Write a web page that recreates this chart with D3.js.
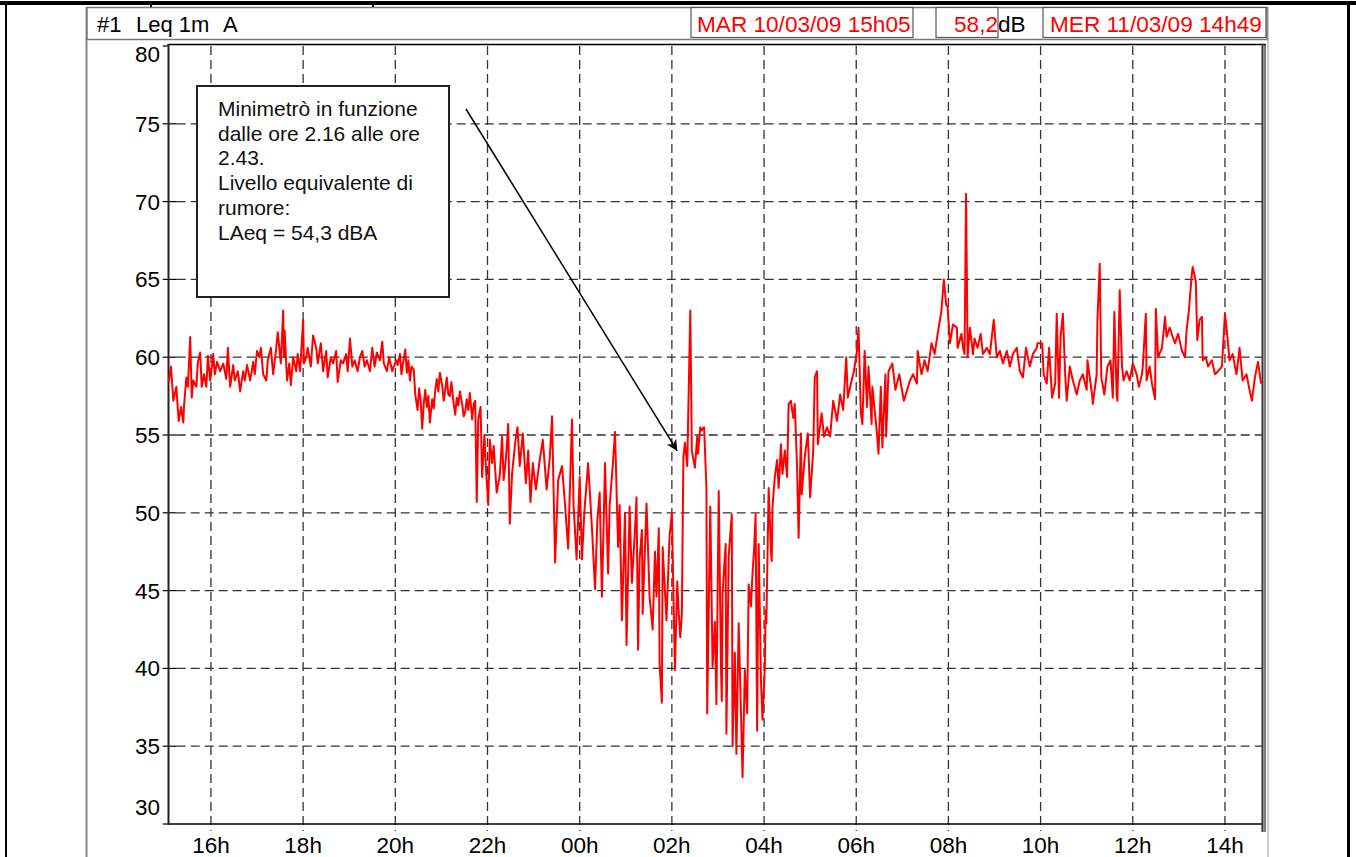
<!DOCTYPE html>
<html>
<head>
<meta charset="utf-8">
<script src="https://cdn.jsdelivr.net/npm/d3@7"></script>
<style>
body{margin:0;background:#fff;}
svg{display:block;font-family:"Liberation Sans",Arial,sans-serif;}
</style>
</head>
<body>
<svg></svg>
<script>
// readings: minutes after 15h05 and Leq 1m (dBA)
var minutes = [0,3,6,10,11,13,16,19,20,23,25,28,30,32,36,38,41,43,46,49,51,54,58,60,63,67,71,75,77,80,84,86,90,93,97,99,102,106,110,112,115,118,120,123,127,129,133,136,140,142,146,149,150,151,154,157,159,162,166,168,171,175,176,179,181,185,188,192,194,198,201,205,207,211,214,218,220,224,227,231,233,236,239,242,246,249,252,255,258,262,265,268,271,275,278,280,284,287,291,293,297,298,301,303,305,308,310,312,314,316,319,321,324,326,328,330,332,334,336,338,340,343,345,347,349,351,353,356,358,360,362,364,366,368,371,373,375,377,379,382,384,386,388,390,392,395,397,399,401,403,406,408,411,413,416,418,421,423,427,431,434,436,439,442,444,447,451,454,457,461,465,468,471,474,478,483,487,492,496,499,503,507,512,516,520,525,527,531,535,538,541,546,551,555,558,561,564,568,572,574,578,581,585,587,590,594,596,600,603,607,609,611,613,616,617,622,626,630,633,635,638,639,642,643,646,648,652,655,659,662,664,666,668,670,672,675,679,681,685,688,689,692,694,697,698,700,701,705,708,711,713,716,719,720,721,725,726,729,733,734,737,739,742,745,747,750,753,755,758,760,762,764,766,768,771,773,776,777,778,781,784,785,786,789,792,794,797,799,802,805,807,810,813,815,818,820,823,824,828,832,835,839,841,844,845,850,853,857,861,865,870,874,878,882,884,889,892,896,898,901,903,906,909,911,915,916,922,924,927,929,933,934,937,942,946,951,957,965,969,974,975,980,984,988,993,997,1001,1006,1009,1012,1014,1017,1021,1026,1027,1032,1034,1036,1038,1040,1043,1047,1049,1053,1057,1060,1065,1069,1074,1078,1082,1086,1091,1095,1099,1104,1108,1112,1116,1121,1125,1130,1131,1137,1139,1143,1146,1150,1154,1156,1159,1161,1164,1167,1169,1173,1177,1182,1186,1190,1195,1196,1202,1203,1208,1209,1212,1214,1218,1222,1226,1229,1231,1234,1235,1238,1241,1243,1247,1251,1255,1260,1263,1267,1268,1272,1273,1277,1280,1284,1285,1288,1293,1297,1299,1303,1307,1310,1314,1319,1323,1325,1328,1332,1333,1337,1339,1342,1345,1346,1350,1353,1358,1362,1366,1371,1372,1375,1377,1381,1385,1390,1394,1398,1403,1407,1410,1414,1418,1422];
var leq = [58.4,59.4,57.2,58.1,57.3,55.9,56.8,55.8,56.9,58.7,58.1,61.3,57.4,58.5,58.1,59.7,60.3,58.1,58.9,58.1,60.1,58.5,60.2,58.9,59.7,59.1,59.6,58.6,60.6,58.1,59.5,58.5,59.1,57.8,59.1,58.5,59.5,58.5,59.7,58.9,60.4,60,60.6,58.9,58.5,59.8,60.6,58.9,60.6,61.6,59.6,63,60,61.7,58.5,59.6,58.2,60,59.1,60.2,59.1,62.4,59.6,60,60.6,59.4,61.4,60.6,59.6,60.9,59.1,60.4,58.7,60,59.6,60.4,58.4,59.8,59.6,60.2,59.1,61.2,59.4,59.8,59.1,60,60.4,59.4,59.8,59.1,60.6,59.4,60.3,59.8,61,59.6,59.1,60,59.1,59.4,59.8,59.5,60.2,58.9,59.6,60.5,59.0,59.8,58.5,59.4,59.2,57.6,56.6,58.0,57.2,55.4,57.0,57.9,56.8,57.5,55.8,57.3,56.7,57.9,58.6,57.8,59.0,58.2,57.2,57.9,58.7,57.6,57.5,58.4,57.0,56.3,57.4,56.9,57.8,57.0,56.2,56.5,57.3,56.6,57.7,56.0,57.0,57.2,50.7,56,56.8,52.3,55,52.8,50.5,54.7,53.2,54.3,51.3,52.4,54.9,52.1,53.5,55.7,49.3,52.5,54.5,55.5,53,55.1,51.9,54,50.7,53.2,51.5,53.4,54.7,51.5,53.5,56.2,46.8,52.1,53,50.5,47.7,56,50.5,47,52.3,47,50,53.2,49,45.1,49.5,51.3,44.6,53.2,46.1,50.5,53,55.2,47.8,50.5,43.1,50,41.5,50.4,45.5,48.9,51,41.2,47,48.9,43.5,50.6,44.6,42.5,47.5,44.6,49,40.3,37.8,47.8,45,43.1,48.5,50,39.9,45.6,43.5,42,43.5,53.6,54.5,53,63,54,52.9,54.9,53.8,55.5,55.3,55.5,54.2,51.6,37.1,50.4,40.1,43,37.7,51.4,40,37.9,44.8,48,35.8,47.2,49.9,35,41,34.5,42.9,37.1,33,39.9,37.1,45.4,44,46.1,47.6,49.9,36,48,39.2,36.7,40,43.7,42.9,51.6,47.5,46.9,50.4,52.3,53.4,51.6,54.4,52.5,54,52.3,57,57.2,56.1,57,52.9,48.4,55.1,51.2,53.6,55.1,51,54,58.7,59.1,54.4,56.4,54.9,55.5,54.9,57.2,55.9,57.6,56.6,60,57.4,58.5,59.1,60.4,61.9,56.4,55.7,60.4,56.8,59.4,55.7,58.1,55.1,53.8,58.1,54.2,58.9,54.9,59.1,59.6,57.9,58.9,57.2,58.5,58.9,58.3,60.4,58.9,59.8,59.1,60.9,60.2,61.5,63,65,63.4,63.2,60.9,62.1,61.9,60.6,61.5,60.6,60.2,70.5,60,61.9,60.2,61.2,60.6,61.5,60.2,60.6,60.2,62.4,60,60.4,59.6,60.4,59.4,60.2,60.6,59.1,58.7,60.6,59.4,60.2,60.6,60.9,60.9,58.9,58.3,60.6,57.4,58.3,62.8,57.4,61.3,62.8,58.9,57.2,59.4,58.5,57.6,58.5,58.9,57.9,59.8,57.6,57,58.9,62.4,66,58.7,57.6,59.4,59.8,57.4,62.9,57.6,57.2,64.3,59.4,58.5,59.1,58.5,59.6,58.9,58.1,58.9,59.4,62.8,58.5,59.4,58.3,57.3,63.1,60,60.6,62.6,61.3,61.9,61.3,60.9,61.5,60.4,60,61.7,63,65.4,65.8,64.9,61.1,62.4,62.6,59.8,60,59.4,59.8,58.9,59.1,59.4,60.2,62.8,61.9,59.8,60.2,58.9,60.6,58.5,58.9,57.9,57.2,58.7,59.7,58.3];
var yTicks = [30, 35, 40, 45, 50, 55, 60, 65, 70, 75, 80];
var startTime = new Date(2009, 2, 10, 15, 5);
var endTime = new Date(2009, 2, 11, 14, 49);
var startLabel = "MAR 10/03/09 15h05";
var endLabel = "MER 11/03/09 14h49";
var cursorValue = "58,2";
var noteLines = ["Minimetrò in funzione", "dalle ore 2.16 alle ore", "2.43.", "Livello equivalente di", "rumore:", "LAeq = 54,3 dBA"];
var noteTime = new Date(2009, 2, 11, 2, 7);
var noteLevel = 54.3;

var width = 1356, height = 857;
var plotL = 168.7, plotR = 1262.6, plotT = 46, plotB = 824;

var svg = d3.select("svg")
    .attr("width", width)
    .attr("height", height);

var x = d3.scaleTime().domain([startTime, endTime]).range([plotL, plotR]);
var y = d3.scaleLinear().domain([30, 80]).range([plotB, plotT]);
var toDate = m => new Date(startTime.getTime() + m * 60000);

// page frame
svg.append("rect").attr("x", 0).attr("y", 1).attr("width", width).attr("height", 4).attr("fill", "#000");
svg.append("rect").attr("x", 5).attr("y", 1).attr("width", 2).attr("height", height).attr("fill", "#000");
svg.append("rect").attr("x", 1347).attr("y", 1).attr("width", 3).attr("height", height).attr("fill", "#000");
[151, 373].forEach(p => {
  svg.append("rect").attr("x", p - 1).attr("y", 4).attr("width", 2).attr("height", 4).attr("fill", "#000");
});

// panel borders
svg.append("line").attr("x1", 86.5).attr("x2", 86.5).attr("y1", 7).attr("y2", height)
    .attr("stroke", "#888").attr("stroke-width", 2);
svg.append("line").attr("x1", 1268).attr("x2", 1268).attr("y1", 7).attr("y2", height)
    .attr("stroke", "#999").attr("stroke-width", 1);

// header
svg.append("rect").attr("x", 87).attr("y", 7.5).attr("width", 1180).attr("height", 32)
    .attr("fill", "#fff").attr("stroke", "#777").attr("stroke-width", 1.5);
var head = svg.append("g").attr("font-size", 22).attr("fill", "#000");
head.append("text").attr("x", 97).attr("y", 32).text("#1");
head.append("text").attr("x", 136).attr("y", 32).text("Leq 1m");
head.append("text").attr("x", 223).attr("y", 32).text("A");

var boxes = [
  {x: 691, w: 222, text: startLabel, anchor: "start", tx: 697},
  {x: 936, w: 62, text: cursorValue, anchor: "end", tx: 998},
  {x: 1043, w: 223, text: endLabel, anchor: "start", tx: 1050}
];
boxes.forEach(b => {
  svg.append("rect").attr("x", b.x).attr("y", 7.5).attr("width", b.w).attr("height", 30)
      .attr("fill", "#fff").attr("stroke", "#555").attr("stroke-width", 1.2);
  svg.append("text").attr("x", b.tx).attr("y", 32).attr("font-size", 22.6)
      .attr("text-anchor", b.anchor).attr("fill", "#f00").text(b.text);
});
svg.append("text").attr("x", 998).attr("y", 32).attr("font-size", 22.6).attr("fill", "#000").text("dB");

// grid
var hours = x.ticks(d3.timeHour.every(2));
svg.append("g")
    .attr("stroke", "#333")
    .attr("stroke-width", 1.3)
    .attr("stroke-dasharray", "9,5")
  .selectAll("line")
  .data(hours)
  .join("line")
    .attr("x1", d => x(d)).attr("x2", d => x(d))
    .attr("y1", plotT).attr("y2", plotB + 7);

svg.append("g")
    .attr("stroke", "#333")
    .attr("stroke-width", 1.3)
    .attr("stroke-dasharray", "9,5")
  .selectAll("line")
  .data(yTicks.slice(1, -1))
  .join("line")
    .attr("x1", plotL + 8).attr("x2", plotR)
    .attr("y1", d => y(d)).attr("y2", d => y(d));

// y ticks
svg.append("g")
    .attr("stroke", "#000")
    .attr("stroke-width", 1.2)
  .selectAll("line")
  .data(yTicks)
  .join("line")
    .attr("x1", plotL - 6).attr("x2", d => (d == 80 || d == 30) ? plotL : plotL + 8)
    .attr("y1", d => y(d)).attr("y2", d => y(d));

svg.append("g")
    .attr("font-size", 22.5)
    .attr("text-anchor", "end")
  .selectAll("text")
  .data(yTicks)
  .join("text")
    .attr("x", 160)
    .attr("y", d => y(d) + (d == 80 ? 16 : d == 30 ? -9 : 8))
    .text(d => d);

// x labels
svg.append("g")
    .attr("font-size", 22.5)
    .attr("text-anchor", "middle")
  .selectAll("text")
  .data(hours)
  .join("text")
    .attr("x", d => x(d))
    .attr("y", 853)
    .text(d3.timeFormat("%Hh"));

// plot frame
svg.append("line").attr("x1", plotL - 1).attr("x2", plotR + 3).attr("y1", 44.5).attr("y2", 44.5)
    .attr("stroke", "#000").attr("stroke-width", 1.5);
svg.append("line").attr("x1", plotL - 1).attr("x2", plotR).attr("y1", plotB).attr("y2", plotB)
    .attr("stroke", "#000").attr("stroke-width", 1.5);
svg.append("line").attr("x1", 168.5).attr("x2", 168.5).attr("y1", 44).attr("y2", plotB + 1)
    .attr("stroke", "#222").attr("stroke-width", 2);
svg.append("line").attr("x1", 1262.5).attr("x2", 1262.5).attr("y1", 44).attr("y2", plotB + 8)
    .attr("stroke", "#333").attr("stroke-width", 2);
svg.append("line").attr("x1", 1265).attr("x2", 1265).attr("y1", 44).attr("y2", plotB + 8)
    .attr("stroke", "#000").attr("stroke-width", 1);

// series
var line = d3.line()
    .x((d, i) => x(toDate(minutes[i])))
    .y(d => y(d));

svg.append("path")
    .datum(leq)
    .attr("fill", "none")
    .attr("stroke", "#f00")
    .attr("stroke-width", 2)
    .attr("stroke-linejoin", "round")
    .attr("d", line);

// note
svg.append("rect").attr("x", 197).attr("y", 86).attr("width", 252).attr("height", 211)
    .attr("fill", "#fff").attr("stroke", "#222").attr("stroke-width", 2);
svg.append("g")
    .attr("font-size", 21)
    .attr("fill", "#111")
  .selectAll("text")
  .data(noteLines)
  .join("text")
    .attr("x", 218)
    .attr("y", (d, i) => 116 + i * 24.7)
    .text(d => d);

svg.append("defs").append("marker")
    .attr("id", "head")
    .attr("viewBox", "0 0 10 10")
    .attr("refX", 10).attr("refY", 5)
    .attr("markerWidth", 17).attr("markerHeight", 11)
    .attr("markerUnits", "userSpaceOnUse")
    .attr("orient", "auto")
  .append("path")
    .attr("d", "M0,0L10,5L0,10L3,5Z")
    .attr("fill", "#000");

svg.append("line")
    .attr("x1", 466).attr("y1", 109)
    .attr("x2", x(noteTime)).attr("y2", y(noteLevel) + 5)
    .attr("stroke", "#000").attr("stroke-width", 1.5)
    .attr("marker-end", "url(#head)");
</script>
</body>
</html>
